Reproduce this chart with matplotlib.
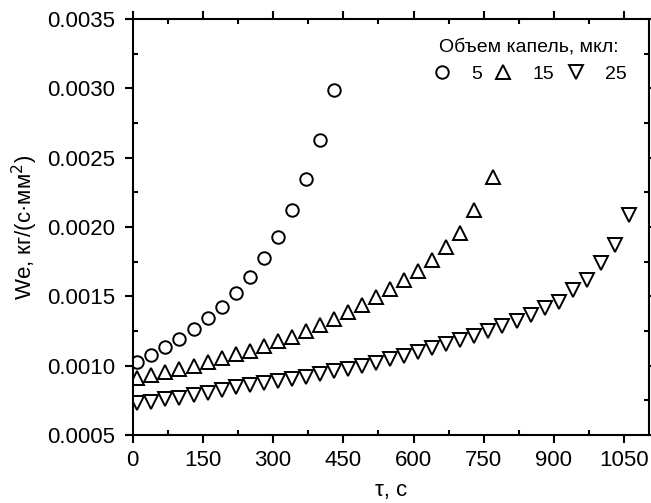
import numpy as np
import matplotlib
matplotlib.use("Agg")
import matplotlib.pyplot as plt
from matplotlib.ticker import MultipleLocator

plt.rcParams['font.family'] = ['Liberation Sans', 'DejaVu Sans']

# 5 мкл
t5 = [10, 40, 70, 100, 130, 160, 190, 220, 250, 280, 310, 340, 370, 400, 430]
we5 = [1.027, 1.078, 1.137, 1.195, 1.267, 1.342, 1.426, 1.527, 1.642, 1.775,
       1.930, 2.123, 2.346, 2.628, 2.986]

# 15 мкл
t15 = [10, 40, 70, 100, 130, 160, 190, 220, 250, 280, 310, 340, 370, 400,
       430, 460, 490, 520, 550, 580, 610, 640, 670, 700, 730, 770]
we15 = [0.909, 0.933, 0.953, 0.977, 1.000, 1.027, 1.054, 1.083, 1.109, 1.142,
        1.178, 1.209, 1.253, 1.294, 1.337, 1.390, 1.436, 1.493, 1.553, 1.618,
        1.685, 1.765, 1.856, 1.955, 2.123, 2.360]

# 25 мкл
t25 = [10, 40, 70, 100, 130, 160, 190, 220, 250, 280, 310, 340, 370, 400,
       430, 460, 490, 520, 550, 580, 610, 640, 670, 700, 730, 760, 790, 820,
       850, 880, 910, 940, 970, 1000, 1030, 1060]
we25 = [0.729, 0.741, 0.758, 0.770, 0.789, 0.806, 0.825, 0.845, 0.861, 0.878,
        0.890, 0.902, 0.921, 0.940, 0.960, 0.979, 0.998, 1.018, 1.047, 1.072,
        1.101, 1.126, 1.155, 1.186, 1.217, 1.253, 1.289, 1.325, 1.366, 1.418,
        1.462, 1.546, 1.618, 1.739, 1.871, 2.087]

we5 = np.array(we5) * 1e-3
we15 = np.array(we15) * 1e-3
we25 = np.array(we25) * 1e-3

fig = plt.figure(figsize=(6.51, 5.03), dpi=100)
ax = fig.add_axes([0.2038, 0.1352, 0.7931, 0.8270])

mk = dict(linestyle='none', markerfacecolor='white', markeredgecolor='black',
          markeredgewidth=1.4)
ax.plot(t5, we5, marker='o', markersize=9, label='5', **mk)
ax.plot(t15, we15, marker='^', markersize=10.5, label='15', **mk)
ax.plot(t25, we25, marker='v', markersize=10.5, label='25', **mk)

ax.set_xlim(0, 1103)
ax.set_ylim(0.0005, 0.0035)
ax.xaxis.set_major_locator(MultipleLocator(150))
ax.xaxis.set_minor_locator(MultipleLocator(75))
ax.yaxis.set_major_locator(MultipleLocator(0.0005))
ax.yaxis.set_minor_locator(MultipleLocator(0.00025))
ax.yaxis.set_major_formatter(matplotlib.ticker.FormatStrFormatter('%.4f'))

for s in ax.spines.values():
    s.set_linewidth(1.5)
ax.tick_params(which='major', direction='out', length=5.5, width=1.5,
               top=True, right=True, labelsize=16, pad=5)
ax.tick_params(axis='y', which='major', pad=7)
ax.tick_params(which='minor', direction='in', length=3.5, width=1.5,
               top=True, right=True)

ax.set_xlabel('τ, с', fontsize=16, labelpad=7)
ax.set_ylabel('We, кг/(с·мм$^2$)', fontsize=16, labelpad=5)

ax.legend(title='Объем капель, мкл:', ncol=3, frameon=False, fontsize=14,
          title_fontsize=14, loc='upper right', bbox_to_anchor=(0.983, 0.985),
          handletextpad=0.9, columnspacing=0.5, handlelength=1.2,
          borderpad=0.2)

fig.savefig('out.png', dpi=100)
